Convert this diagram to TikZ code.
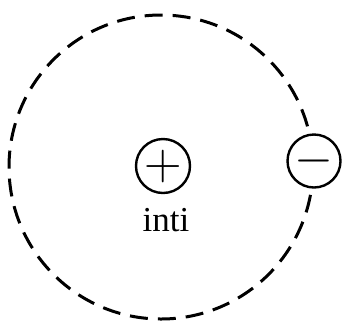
\documentclass[tikz,border=0pt]{standalone}
\usepackage{fix-cm}
\usepackage{fontspec}
\setmainfont{Liberation Serif}
\tikzset{
  charge/.style={circle, draw, line width=2.4pt, fill=white, inner sep=0pt},
  orbit/.style={line width=3pt, dash pattern=on 18pt off 10pt}
}
\begin{document}
\begin{tikzpicture}[x=1pt, y=-1pt]
            \useasboundingbox (0,0) rectangle (342,325);
            \coordinate (O) at (161,167);
            \draw[orbit] (O) circle[radius=152];
            \node[charge, minimum size=54pt] (P) at (163,166) {\fontsize{52}{52}\selectfont$+$};
            \node[charge, minimum size=53pt] (E) at (314,161) {\fontsize{50}{50}\selectfont$-$};
            \node[font=\fontsize{35}{35}\selectfont] (L) at (166,220) {inti};
        \end{tikzpicture}
\end{document}
